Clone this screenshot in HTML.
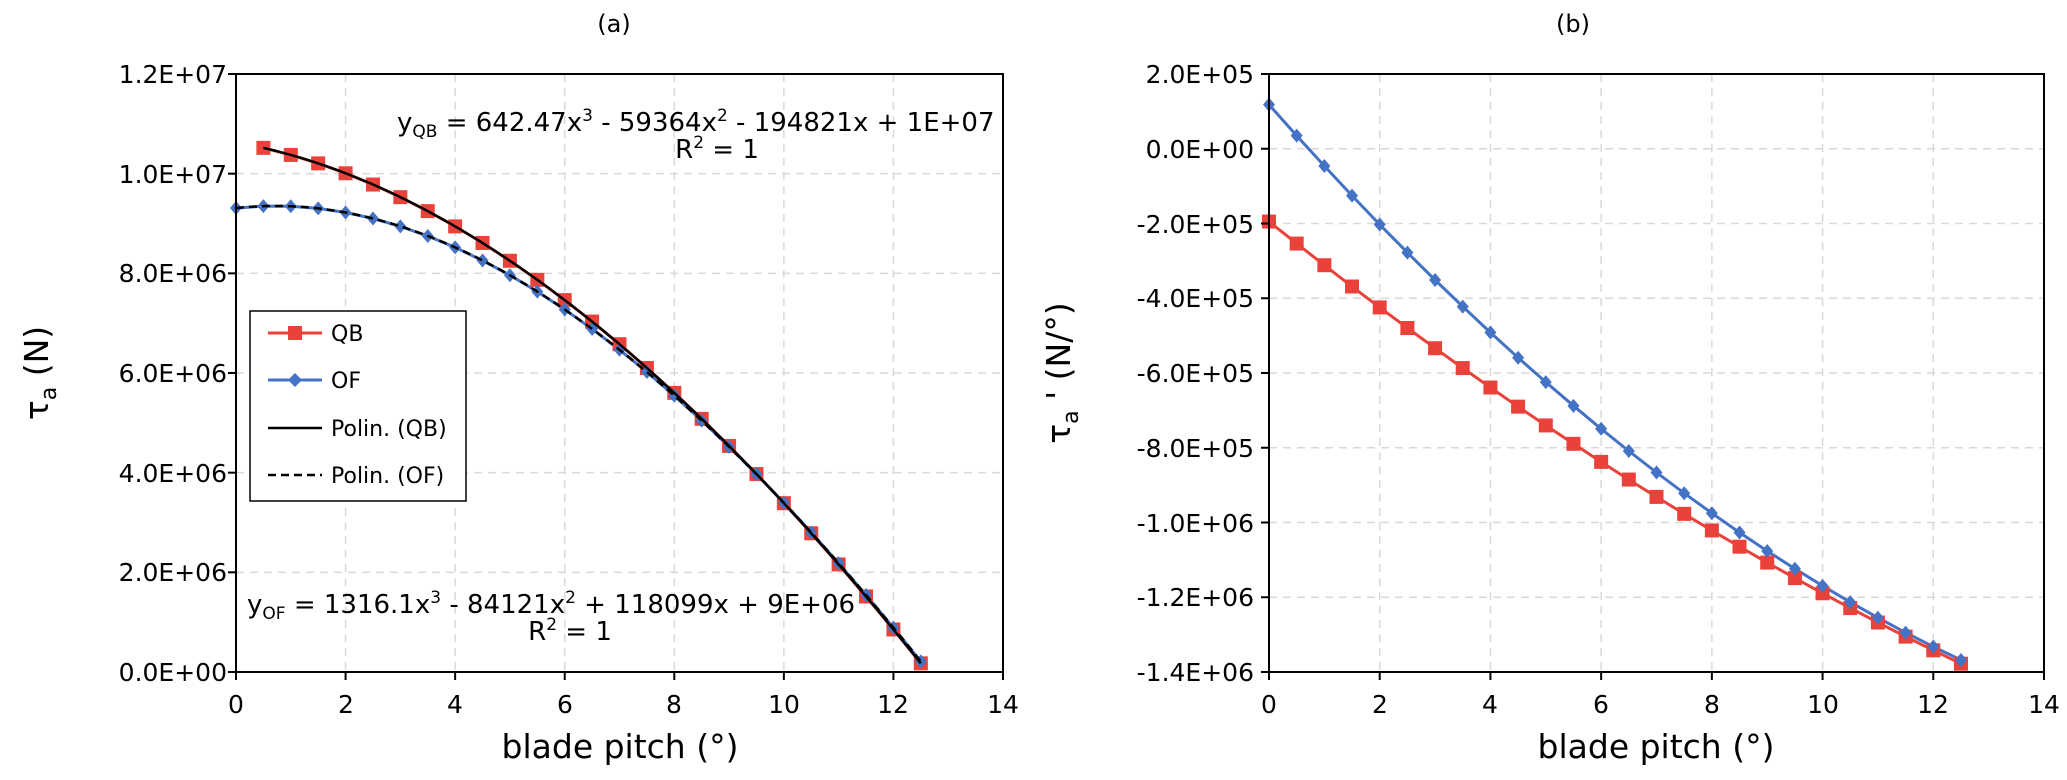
<!DOCTYPE html>
<html><head><meta charset="utf-8"><style>
html,body{margin:0;padding:0;background:#fff;}
svg{display:block;font-family:"DejaVu Sans","Liberation Sans",sans-serif;}
</style></head><body>
<svg id="s" width="2067" height="780" viewBox="0 0 2067 780" xmlns="http://www.w3.org/2000/svg">
<rect width="2067" height="780" fill="#fff"/>
<g id="grid" stroke="#d9d9d9" stroke-width="1.5" stroke-dasharray="8,6" fill="none"></g>
<g id="series"></g>
<g stroke="#000" stroke-width="2" fill="none">
<rect x="236" y="74" width="767" height="598"/>
<rect x="1269" y="74" width="775" height="598"/>
</g>
<g id="ticks" stroke="#000" stroke-width="2"></g>
<g font-size="25" fill="#000" text-anchor="end">
<text x="227" y="83">1.2E+07</text>
<text x="227" y="183">1.0E+07</text>
<text x="227" y="282">8.0E+06</text>
<text x="227" y="382">6.0E+06</text>
<text x="227" y="482">4.0E+06</text>
<text x="227" y="581">2.0E+06</text>
<text x="227" y="681">0.0E+00</text>
<text x="1254" y="83">2.0E+05</text>
<text x="1254" y="158">0.0E+00</text>
<text x="1254" y="233">-2.0E+05</text>
<text x="1254" y="307">-4.0E+05</text>
<text x="1254" y="382">-6.0E+05</text>
<text x="1254" y="457">-8.0E+05</text>
<text x="1254" y="532">-1.0E+06</text>
<text x="1254" y="606">-1.2E+06</text>
<text x="1254" y="681">-1.4E+06</text>
</g>
<g font-size="25" fill="#000" text-anchor="middle">
<text x="236" y="713">0</text><text x="346" y="713">2</text><text x="455" y="713">4</text><text x="565" y="713">6</text><text x="674" y="713">8</text><text x="784" y="713">10</text><text x="893" y="713">12</text><text x="1003" y="713">14</text>
<text x="1269" y="713">0</text><text x="1380" y="713">2</text><text x="1490" y="713">4</text><text x="1601" y="713">6</text><text x="1712" y="713">8</text><text x="1823" y="713">10</text><text x="1933" y="713">12</text><text x="2044" y="713">14</text>
</g>
<g font-size="24" fill="#000" text-anchor="middle">
<text x="614" y="32">(a)</text>
<text x="1573" y="32">(b)</text>
</g>
<g font-size="33" fill="#000" text-anchor="middle">
<text x="620" y="758">blade pitch (°)</text>
<text x="1656" y="758">blade pitch (°)</text>
<text transform="translate(48,373) rotate(-90)">τ<tspan font-size="22" dy="8">a</tspan><tspan dy="-8"> (N)</tspan></text>
<text transform="translate(1070,373) rotate(-90)">τ<tspan font-size="22" dy="8">a</tspan><tspan dy="-8"> ' (N/°)</tspan></text>
</g>
<g font-size="26" fill="#000">
<text x="397" y="131">y<tspan font-size="17" dy="6">QB</tspan><tspan dy="-6"> = 642.47x</tspan><tspan font-size="17" dy="-10">3</tspan><tspan dy="10"> - 59364x</tspan><tspan font-size="17" dy="-10">2</tspan><tspan dy="10"> - 194821x + 1E+07</tspan></text>
<text x="717" y="158" text-anchor="middle">R<tspan font-size="17" dy="-10">2</tspan><tspan dy="10"> = 1</tspan></text>
<text x="247" y="613">y<tspan font-size="17" dy="6">OF</tspan><tspan dy="-6"> = 1316.1x</tspan><tspan font-size="17" dy="-10">3</tspan><tspan dy="10"> - 84121x</tspan><tspan font-size="17" dy="-10">2</tspan><tspan dy="10"> + 118099x + 9E+06</tspan></text>
<text x="570" y="640" text-anchor="middle">R<tspan font-size="17" dy="-10">2</tspan><tspan dy="10"> = 1</tspan></text>
</g>
<g>
<rect x="250" y="311" width="216" height="190" fill="#fff" stroke="#000" stroke-width="1.5"/>
<line x1="268" y1="333" x2="322" y2="333" stroke="#E8423A" stroke-width="3"/>
<rect x="288" y="326" width="14" height="14" fill="#E8423A"/>
<line x1="268" y1="380" x2="322" y2="380" stroke="#4472C4" stroke-width="3"/>
<polygon points="295,373 302,380 295,387 288,380" fill="#4472C4"/>
<line x1="268" y1="428" x2="322" y2="428" stroke="#000" stroke-width="2.5"/>
<line x1="268" y1="475" x2="322" y2="475" stroke="#000" stroke-width="2.5" stroke-dasharray="8,5"/>
<g font-size="22" fill="#000">
<text x="331" y="341">QB</text>
<text x="331" y="388">OF</text>
<text x="331" y="436">Polin. (QB)</text>
<text x="331" y="483">Polin. (OF)</text>
</g>
</g>
</svg>
<script>
var NS="http://www.w3.org/2000/svg";
function el(p,t,a){var e=document.createElementNS(NS,t);for(var k in a)e.setAttribute(k,a[k]);p.appendChild(e);return e;}
var grid=document.getElementById('grid'),ticks=document.getElementById('ticks'),ser=document.getElementById('series');
var L={x0:236,x1:1003,y0:74,y1:672,ymin:0,ymax:1.2e7};
var R={x0:1269,x1:2044,y0:74,y1:672,ymin:-1.4e6,ymax:2e5};
function X(P,x){return P.x0+(P.x1-P.x0)*x/14;}
function Y(P,y){return P.y1-(P.y1-P.y0)*(y-P.ymin)/(P.ymax-P.ymin);}
[L,R].forEach(function(P){
 for(var i=1;i<7;i++){var x=X(P,2*i);el(grid,'line',{x1:x,y1:P.y0,x2:x,y2:P.y1});}
 for(var i=0;i<=7;i++){var x=X(P,2*i);el(ticks,'line',{x1:x,y1:P.y1,x2:x,y2:P.y1+8});}
 var n=(P===L)?6:8;
 for(var j=0;j<=n;j++){var y=P.y1-(P.y1-P.y0)*j/n;if(j>0&&j<n)el(grid,'line',{x1:P.x0,y1:y,x2:P.x1,y2:y});el(ticks,'line',{x1:P.x0-8,y1:y,x2:P.x0,y2:y});}
});
function qb(x){return 642.47*x*x*x-59364*x*x-194821*x+1.063e7;}
function of(x){return 1316.1*x*x*x-84121*x*x+118099*x+9.31e6;}
function dqb(x){return 3*642.47*x*x-2*59364*x-194821;}
function dof(x){return 3*1316.1*x*x-2*84121*x+118099;}
function pts(P,f,a,b,st){var s=[];for(var x=a;x<=b+1e-9;x+=st)s.push(X(P,x).toFixed(1)+','+Y(P,f(x)).toFixed(1));return s.join(' ');}
function sq(P,f,a){for(var x=a;x<=12.5+1e-9;x+=0.5){el(ser,'rect',{x:X(P,x)-7,y:Y(P,f(x))-7,width:14,height:14,fill:'#E8423A'});}}
function dm(P,f,a){for(var x=a;x<=12.5+1e-9;x+=0.5){var cx=X(P,x),cy=Y(P,f(x));el(ser,'polygon',{points:(cx)+','+(cy-7)+' '+(cx+6)+','+cy+' '+cx+','+(cy+7)+' '+(cx-6)+','+cy,fill:'#4472C4'});}}
el(ser,'polyline',{points:pts(L,qb,0.5,12.5,0.5),fill:'none',stroke:'#E8423A','stroke-width':3});
el(ser,'polyline',{points:pts(L,of,0,12.5,0.5),fill:'none',stroke:'#4472C4','stroke-width':3});
sq(L,qb,0.5);dm(L,of,0);
el(ser,'polyline',{points:pts(L,qb,0.5,12.5,0.1),fill:'none',stroke:'#000','stroke-width':2.5});
el(ser,'polyline',{points:pts(L,of,0,12.5,0.1),fill:'none',stroke:'#000','stroke-width':2.5,'stroke-dasharray':'8,5'});
el(ser,'polyline',{points:pts(R,dqb,0,12.5,0.5),fill:'none',stroke:'#E8423A','stroke-width':3});
el(ser,'polyline',{points:pts(R,dof,0,12.5,0.5),fill:'none',stroke:'#4472C4','stroke-width':3});
sq(R,dqb,0);dm(R,dof,0);
</script>
</body></html>
